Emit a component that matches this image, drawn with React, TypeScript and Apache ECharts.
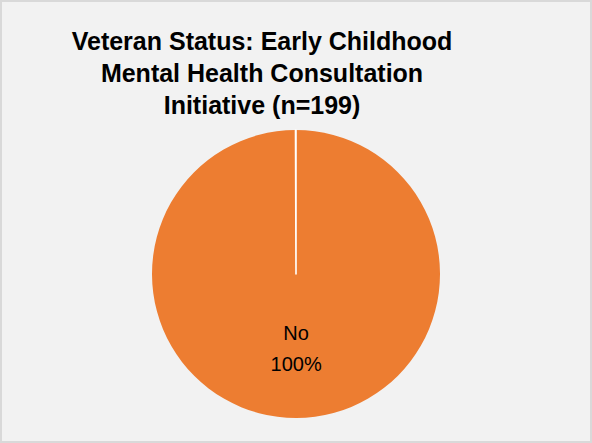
import React, { useEffect, useRef } from "react";
import * as echarts from "echarts";

const titleLines = ["Veteran Status: Early Childhood", "Mental Health Consultation", "Initiative (n=199)"];
const categories = ["No", "Yes"];
const counts = [199, 0];
const colors = ["#ED7D31", "#ffffff"];

export default function App() {
  const ref = useRef<HTMLDivElement>(null);
  useEffect(() => {
    document.body.style.margin = "0";
    const chart = echarts.init(ref.current!, null, { renderer: "svg" });
    chart.setOption({
      animation: false,
      backgroundColor: "transparent",
      title: {
        text: titleLines.join("\n"),
        left: 257,
        top: 20,
        textAlign: "center",
        textStyle: {
          fontFamily: "Liberation Sans, Arial, sans-serif",
          fontWeight: "bold",
          fontSize: 25,
          lineHeight: 32,
          color: "#000",
        },
      },
      series: [
        {
          type: "pie",
          center: [296, 274],
          radius: 144,
          startAngle: 90,
          clockwise: true,
          minAngle: 0.2,
          avoidLabelOverlap: false,
          label: {
            show: true,
            position: "inside",
            formatter: "{b}\n{d}%",
            fontFamily: "Liberation Sans, Arial, sans-serif",
            fontSize: 20,
            lineHeight: 31,
            color: "#000",
          },
          labelLine: { show: false },
          emphasis: { disabled: true },
          data: categories.map((c, i) => ({
            name: c,
            value: counts[i],
            itemStyle:
              counts[i] === 0
                ? { color: colors[i], borderColor: "#ffffff", borderWidth: 1.6 }
                : { color: colors[i], borderWidth: 0 },
            label: counts[i] === 0 ? { show: false } : undefined,
          })),
        },
      ],
    });
    return () => chart.dispose();
  }, []);
  return (
    <div
      style={{
        position: "relative",
        width: 592,
        height: 443,
        background: "#f2f2f2",
        boxShadow: "inset 0 0 0 2px #d9d9d9",
      }}
    >
      <div ref={ref} style={{ position: "absolute", left: 0, top: 0, width: 592, height: 443 }} />
    </div>
  );
}
